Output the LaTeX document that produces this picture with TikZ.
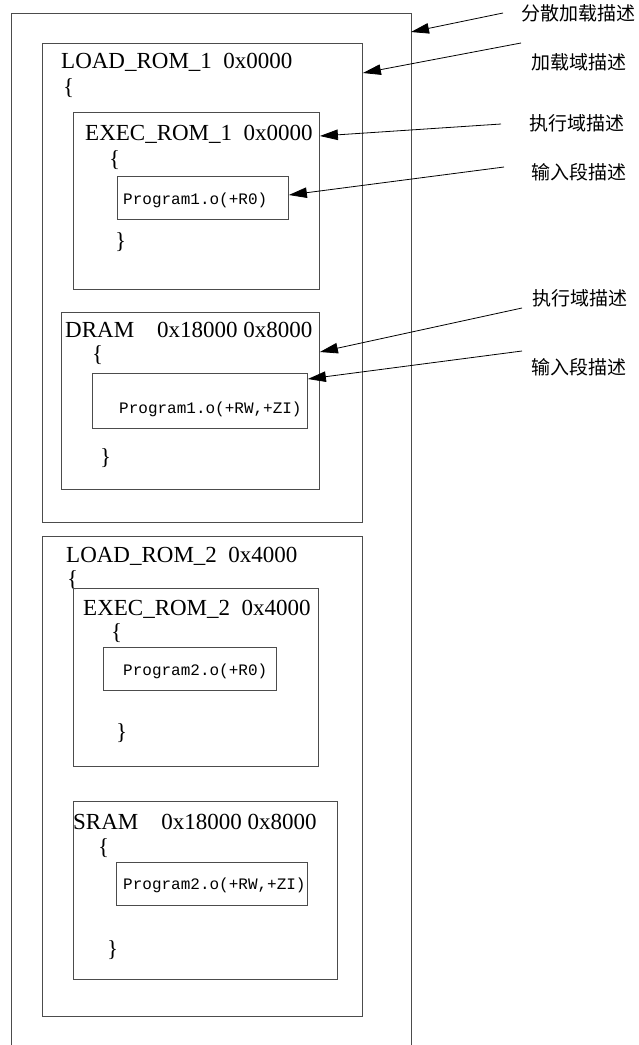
\documentclass[tikz,border=0pt]{standalone}
\usepackage{fontspec}
\setmainfont{Liberation Serif}
\newfontfamily\cjk{Noto Sans CJK SC}
\newfontfamily\codefont{Liberation Mono}
\usetikzlibrary{arrows.meta}

\begin{document}
\begin{tikzpicture}[x=1pt, y=-1pt,
  box/.style={draw=black!70, line width=0.9pt, anchor=north west, inner sep=0pt},
  title/.style={anchor=base west, inner sep=0pt, font=\fontsize{23}{23}\selectfont},
  brace/.style={anchor=west, inner sep=0pt, font=\fontsize{23}{23}\selectfont},
  code/.style={anchor=base west, inner sep=0pt, font=\codefont\fontsize{16}{16}\selectfont},
  note/.style={anchor=west, inner sep=0pt, font=\cjk\fontsize{19}{19}\selectfont},
  pointer/.style={-{Triangle[length=18pt, width=10.5pt]}, line width=0.8pt}]
\useasboundingbox (0,0) rectangle (638,1045);

% scatter file frame, open at the bottom
\draw[black!70, line width=0.9pt] (11,1045) -- (11,13) -- (411,13) -- (411,1045);
\coordinate (frame) at (411,13);

% load region 1
\node[box, minimum width=320pt, minimum height=479pt] (load1) at (42,43) {};
\node[title] (load1t) at (61,68) {LOAD\_ROM\_1\ \ 0x0000};
\node[brace] (load1o) at (63,88) {\{};

% execution region ROM 1
\node[box, minimum width=246pt, minimum height=177pt] (exec1) at (73,112) {};
\node[title] (exec1t) at (85,140) {EXEC\_ROM\_1\ \ 0x0000};
\node[brace] (exec1o) at (109,160) {\{};
\node[box, minimum width=171pt, minimum height=43pt] (prog1) at (117,176) {};
\node[code] (prog1t) at (123,204) {Program1.o(+R0)};
\node[brace] (exec1c) at (115,242) {\}};

% execution region DRAM
\node[box, minimum width=258pt, minimum height=177pt] (dram) at (61,312) {};
\node[title] (dramt) at (65,337) {DRAM\ \ \ \ 0x18000\ 0x8000};
\node[brace] (dramo) at (92,355) {\{};
\node[box, minimum width=215pt, minimum height=55pt] (prog1rw) at (92,373) {};
\node[code] (prog1rwt) at (119,413) {Program1.o(+RW,+ZI)};
\node[brace] (dramc) at (100,458) {\}};

% load region 2
\node[box, minimum width=320pt, minimum height=480pt] (load2) at (42,536) {};
\node[title] (load2t) at (66,562) {LOAD\_ROM\_2\ \ 0x4000};
\node[brace] (load2o) at (67,580) {\{};

% execution region ROM 2
\node[box, minimum width=245pt, minimum height=178pt] (exec2) at (73,588) {};
\node[title] (exec2t) at (83,615) {EXEC\_ROM\_2\ \ 0x4000};
\node[brace] (exec2o) at (111,633) {\{};
\node[box, minimum width=173pt, minimum height=43pt] (prog2) at (103,647) {};
\node[code] (prog2t) at (123,675) {Program2.o(+R0)};
\node[brace] (exec2c) at (116,733) {\}};

% execution region SRAM
\node[box, minimum width=264pt, minimum height=178pt] (sram) at (73,801) {};
\node[title] (sramt) at (73,829) {SRAM\ \ \ \ 0x18000\ 0x8000};
\node[brace] (sramo) at (98,848) {\{};
\node[box, minimum width=191pt, minimum height=43pt] (prog2rw) at (116,862) {};
\node[code] (prog2rwt) at (123,889) {Program2.o(+RW,+ZI)};
\node[brace] (sramc) at (107,950) {\}};

% notes
\node[note] (noteA) at (521,13) {分散加载描述};
\node[note] (noteB) at (531,62) {加载域描述};
\node[note] (noteC) at (529,123) {执行域描述};
\node[note] (noteD) at (531,172) {输入段描述};
\node[note] (noteE) at (532,298) {执行域描述};
\node[note] (noteF) at (531,367) {输入段描述};

\coordinate (tailA) at (503,13);
\coordinate (tailB) at (521,43);
\coordinate (tailC) at (501,124);
\coordinate (tailD) at (504,167);
\coordinate (tailE) at (522,308);
\coordinate (tailF) at (522,351);

\draw[pointer] (tailA) -- ([yshift=-19pt]frame);
\draw[pointer] (tailB) -- ([yshift=-30pt]load1.north east);
\draw[pointer] (tailC) -- ([yshift=-24pt]exec1.north east);
\draw[pointer] (tailD) -- ([yshift=-19pt]prog1.north east);
\draw[pointer] (tailE) -- ([yshift=-40pt]dram.north east);
\draw[pointer] (tailF) -- ([yshift=-6pt]prog1rw.north east);
\end{tikzpicture}
\end{document}
